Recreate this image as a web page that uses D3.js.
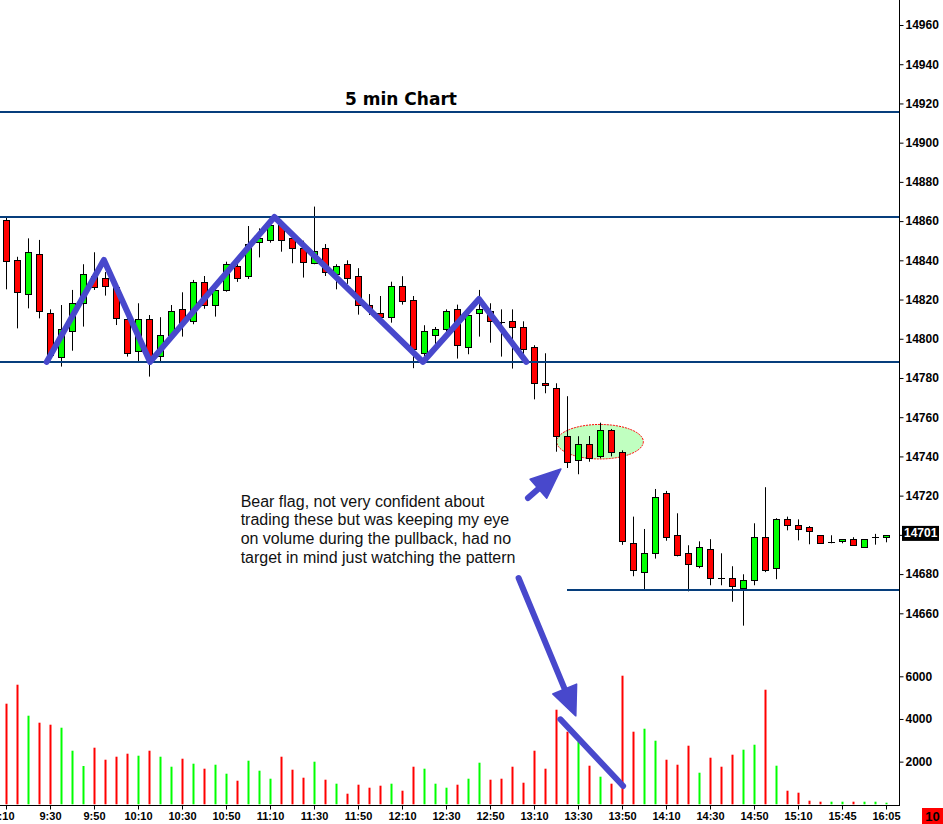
<!DOCTYPE html>
<html><head><meta charset="utf-8">
<script src="https://cdn.jsdelivr.net/npm/d3@7"></script>
<style>html,body{margin:0;padding:0;background:#fff;overflow:hidden}</style>
</head><body>
<svg id="c" width="943" height="824" xmlns="http://www.w3.org/2000/svg"></svg>
<script>
// ---- data (5-minute bars) ----
const openP  = [14860.6,14840.0,14822.6,14843.0,14813.0,14790.6,14803.8,14818.1,14832.0,14830.8,
                14826.6,14809.9,14793.6,14809.9,14790.9,14801.8,14815.0,14808.9,14828.8,14817.1,
                14824.7,14836.9,14831.9,14849.2,14850.2,14858.0,14851.2,14846.1,14839.0,14846.1,
                14833.0,14838.0,14831.9,14817.1,14813.0,14810.9,14826.8,14819.8,14792.6,14801.8,
                14804.8,14815.0,14795.7,14813.0,14814.0,14808.8,14808.9,14805.9,14795.7,14777.3,
                14774.7,14750.3,14738.0,14746.2,14740.1,14753.3,14742.1,14695.7,14680.7,14690.4,
                14721.2,14699.8,14690.6,14684.0,14692.7,14678.0,14677.9,14672.8,14676.8,14698.8,
                14682.9,14707.9,14704.9,14703.9,14699.8,14696.6,14696.7,14697.8,14693.7,14699.0,14698.8];
const highP  = [14862.3,14841.8,14851.2,14850.4,14815.0,14817.2,14824.9,14838.0,14844.1,14834.0,
                14829.0,14812.1,14818.1,14812.1,14811.0,14817.2,14823.7,14830.0,14832.0,14828.8,
                14839.3,14841.8,14857.5,14856.3,14861.6,14860.6,14854.0,14850.0,14867.4,14848.3,
                14838.0,14840.0,14836.0,14822.8,14821.8,14829.1,14831.9,14821.8,14806.9,14806.0,
                14815.0,14817.4,14816.0,14824.9,14818.1,14815.0,14815.0,14808.9,14796.7,14792.6,
                14777.3,14770.7,14750.3,14750.4,14757.2,14754.0,14743.1,14709.3,14703.0,14723.4,
                14722.4,14711.0,14694.7,14696.7,14697.8,14690.6,14684.0,14679.9,14705.9,14724.3,
                14708.5,14709.3,14707.9,14704.5,14699.8,14699.8,14697.8,14698.8,14697.8,14700.5,14699.8];
const lowP   = [14825.2,14805.3,14815.5,14810.4,14789.0,14785.8,14793.9,14806.2,14824.9,14822.0,
                14807.0,14790.9,14788.3,14780.7,14788.0,14799.0,14801.1,14807.4,14815.3,14811.3,
                14824.0,14829.0,14830.5,14841.5,14849.0,14844.4,14838.5,14831.2,14838.0,14832.0,
                14825.2,14828.0,14812.3,14812.1,14809.5,14808.2,14817.4,14785.0,14791.0,14796.7,
                14801.0,14789.9,14792.1,14801.1,14798.0,14790.9,14784.8,14792.0,14769.1,14772.2,
                14742.4,14734.1,14730.9,14737.3,14739.0,14740.0,14694.9,14678.9,14672.3,14687.9,
                14697.0,14689.0,14671.2,14683.0,14674.3,14674.3,14665.9,14653.7,14674.3,14681.0,
                14677.4,14702.3,14697.2,14695.2,14695.7,14695.7,14695.7,14694.6,14693.7,14695.0,14696.2];
const closeP = [14839.8,14823.7,14844.1,14814.0,14791.7,14804.8,14818.1,14832.9,14826.4,14826.8,
                14810.9,14792.6,14809.9,14790.0,14801.8,14814.0,14807.9,14828.8,14817.1,14824.7,
                14838.0,14830.8,14848.2,14851.4,14858.0,14850.2,14846.1,14839.0,14844.9,14833.9,
                14836.9,14830.8,14817.1,14815.0,14810.9,14826.8,14819.1,14794.6,14803.8,14804.8,
                14814.0,14796.7,14812.0,14815.0,14808.9,14808.6,14805.9,14794.6,14777.3,14776.3,
                14750.3,14737.0,14746.2,14739.0,14753.3,14742.1,14696.5,14681.7,14690.6,14719.2,
                14698.6,14689.6,14685.0,14693.7,14677.9,14677.8,14673.8,14676.8,14698.8,14681.9,
                14707.9,14704.9,14702.9,14701.8,14695.7,14696.8,14697.8,14694.6,14697.8,14699.2,14699.8];
const volume = [4716,5606,4153,3825,3731,3590,2512,1795,2653,2090,
                2231,2372,2278,2512,2231,1762,2137,1903,1669,1856,
                1434,1106,2044,1575,1200,2231,1622,1247,1997,1153,
                966,497,919,778,872,966,637,1762,1669,966,
                778,919,1200,1950,1153,1200,1762,1012,2512,1669,
                4434,3403,2934,1809,1294,966,6028,3403,3543,2981,
                2090,1856,2747,1481,2184,1762,2325,2559,2793,5371,
                1809,637,544,169,122,122,122,122,122,122,75];
const tickIndex  = [0,4,8,12,16,20,24,28,32,36,40,44,48,52,56,60,64,68,72,76,80];
const tickLabels = ["9:10","9:30","9:50","10:10","10:30","10:50","11:10","11:30","11:50","12:10","12:30",
                    "12:50","13:10","13:30","13:50","14:10","14:30","14:50","15:10","15:45","16:05"];
const priceTicks = [14660,14680,14700,14720,14740,14760,14780,14800,14820,14840,14860,14880,14900,14920,14940,14960];
const volTicks   = [2000,4000,6000];
const levels     = [14915.6,14862.1,14788.2];
const supportStart = 51, supportPrice = 14671.9;
const zigzag = [[3.7,14788.2],[8.9,14840.2],[13.1,14788.2],[24.4,14862.1],[37.9,14788.2],[43.0,14820.3],[47.3,14788.2]];
const flagCenter = [54,14747.5], flagRx = 3.94, flagRy = 8.8;
const arrow1 = [[47.45,14718.8],[50.45,14733.6]];
const arrow2 = [[46.6,14678.0],[51.8,14607.7]];
const volLine = [[50.4,3984],[56.1,858]];
const lastPrice = 14701;
const noteLines = ["Bear flag, not very confident about","trading these but was keeping my eye",
                   "on volume during the pullback, had no","target in mind just watching the pattern"];
const notePos = [21.33,14714.4];

// ---- drawing ----
const svg = d3.select("#c");
const x = d3.scaleLinear().domain([0,80]).range([6,886]);
const y = d3.scaleLinear().domain([14660,14960]).range([613.3,25]);
const v = d3.scaleLinear().domain([0,6000]).range([804.3,676.3]);
const RED="#ff0000", GREEN="#00ff00", NAVY="#063e7c", BLUE="#4848cc";
const data = openP.map((o,i)=>({i,o,h:highP[i],l:lowP[i],c:closeP[i],vol:volume[i]}));

// flag ellipse (behind candles)
svg.append("ellipse").attr("cx",x(flagCenter[0])).attr("cy",y(flagCenter[1]))
  .attr("rx",x(flagRx)-x(0)).attr("ry",y(14960-flagRy)-y(14960))
  .attr("fill","#c0ffc0").attr("stroke","#ff0000").attr("stroke-width",1).attr("stroke-dasharray","2,1");

// candles
const cg = svg.append("g");
data.forEach(d=>{
  const cx = Math.round(x(d.i))+0.5;
  cg.append("line").attr("x1",cx).attr("x2",cx).attr("y1",y(d.h)).attr("y2",y(d.l))
    .attr("stroke","#000").attr("stroke-width",1);
  if (Math.abs(d.o-d.c) < 0.5) {
    const yy = Math.round(y(d.o))+0.5;
    cg.append("line").attr("x1",cx-3.5).attr("x2",cx+3.5).attr("y1",yy).attr("y2",yy)
      .attr("stroke","#000").attr("stroke-width",1);
  } else {
    const top = y(Math.max(d.o,d.c)), bot = y(Math.min(d.o,d.c));
    cg.append("rect").attr("x",cx-3).attr("width",6)
      .attr("y",Math.round(top)+0.5).attr("height",Math.max(1,Math.round(bot-top)))
      .attr("fill",d.c>d.o?GREEN:RED).attr("stroke","#000").attr("stroke-width",1);
  }
});

// volume bars
svg.append("g").selectAll("rect").data(data).join("rect")
  .attr("x",d=>Math.round(x(d.i))-0.5).attr("width",2)
  .attr("y",d=>v(d.vol)).attr("height",d=>v(0)-v(d.vol))
  .attr("fill",d=>d.c>d.o?GREEN:RED);

// level lines
svg.append("g").selectAll("line").data(levels).join("line")
  .attr("x1",0).attr("x2",899).attr("y1",d=>Math.round(y(d))).attr("y2",d=>Math.round(y(d)))
  .attr("stroke",NAVY).attr("stroke-width",2);
svg.append("line").attr("x1",x(supportStart)).attr("x2",899)
  .attr("y1",Math.round(y(supportPrice))).attr("y2",Math.round(y(supportPrice)))
  .attr("stroke",NAVY).attr("stroke-width",2);

// title
svg.append("text").attr("x",401).attr("y",105).attr("text-anchor","middle")
  .attr("font-family","DejaVu Sans, Verdana, sans-serif").attr("font-weight","bold").attr("font-size",17)
  .text("5 min Chart");

// axes frame
svg.append("line").attr("x1",899.5).attr("x2",899.5).attr("y1",0).attr("y2",806).attr("stroke","#000");
svg.append("line").attr("x1",0).attr("x2",899).attr("y1",805.5).attr("y2",805.5).attr("stroke","#000");

const axFont = g => g.selectAll("text").attr("font-family","Liberation Sans, Arial, sans-serif")
  .attr("font-weight","bold").attr("fill","#000");
const pa = svg.append("g").attr("transform","translate(899.5,0)")
  .call(d3.axisRight(y).tickValues(priceTicks).tickSize(4).tickPadding(2).tickFormat(d3.format("d")));
pa.select(".domain").remove(); pa.attr("font-size",12); axFont(pa);
const va = svg.append("g").attr("transform","translate(899.5,0)")
  .call(d3.axisRight(v).tickValues(volTicks).tickSize(4).tickPadding(2).tickFormat(d3.format("d")));
va.select(".domain").remove(); va.attr("font-size",12); axFont(va);
const xa = svg.append("g").attr("transform","translate(0,805.5)")
  .call(d3.axisBottom(x).tickValues(tickIndex).tickSize(4).tickPadding(3).tickFormat((d,i)=>tickLabels[i]));
xa.select(".domain").remove(); xa.attr("font-size",11); axFont(xa);
xa.selectAll(".tick").filter(d=>d===0).select("text").attr("x",-3);

// last price tag
const ly = y(lastPrice);
svg.append("rect").attr("x",902).attr("y",ly-7).attr("width",37).attr("height",15).attr("fill","#000");
svg.append("text").attr("x",904).attr("y",ly+4.5).attr("fill","#fff")
  .attr("font-family","Liberation Sans, Arial, sans-serif").attr("font-weight","bold").attr("font-size",12)
  .text(String(lastPrice));

// volume tag
svg.append("rect").attr("x",922).attr("y",808).attr("width",21).attr("height",16).attr("fill","#ff0000");
svg.append("text").attr("x",932.5).attr("y",821).attr("text-anchor","middle").attr("fill","#000")
  .attr("font-family","Liberation Sans, Arial, sans-serif").attr("font-weight","bold").attr("font-size",13)
  .text("10");

// annotation text
const nt = svg.append("text").attr("font-family","Liberation Sans, Arial, sans-serif").attr("font-size",16).attr("fill","#111");
noteLines.forEach((t,k)=>nt.append("tspan").attr("x",x(notePos[0])).attr("y",y(notePos[1])+k*18.7).text(t));

// zigzag
const line = d3.line().x(d=>x(d[0])).y(d=>y(d[1]));
svg.append("path").attr("d",line(zigzag)).attr("fill","none").attr("stroke",BLUE)
  .attr("stroke-width",6).attr("stroke-linejoin","round").attr("stroke-linecap","round");

// arrows
function arrow(p, sy, headLen, halfW) {
  const x1=x(p[0][0]), y1=sy(p[0][1]), x2=x(p[1][0]), y2=sy(p[1][1]);
  const dx=x2-x1, dy=y2-y1, L=Math.hypot(dx,dy), ux=dx/L, uy=dy/L;
  const bx=x2-ux*headLen, by=y2-uy*headLen;
  svg.append("line").attr("x1",x1).attr("y1",y1).attr("x2",bx+ux*2).attr("y2",by+uy*2)
    .attr("stroke",BLUE).attr("stroke-width",6).attr("stroke-linecap","round");
  svg.append("path").attr("d",`M${x2},${y2}L${bx-uy*halfW},${by+ux*halfW}L${bx+uy*halfW},${by-ux*halfW}Z`)
    .attr("fill",BLUE).attr("stroke",BLUE).attr("stroke-width",1.5).attr("stroke-linejoin","round");
}
arrow(arrow1, y, 30, 12.6);
arrow(arrow2, y, 29, 12.9);
svg.append("line").attr("x1",x(volLine[0][0])).attr("y1",v(volLine[0][1]))
  .attr("x2",x(volLine[1][0])).attr("y2",v(volLine[1][1]))
  .attr("stroke",BLUE).attr("stroke-width",6).attr("stroke-linecap","round");
</script>
</body></html>
